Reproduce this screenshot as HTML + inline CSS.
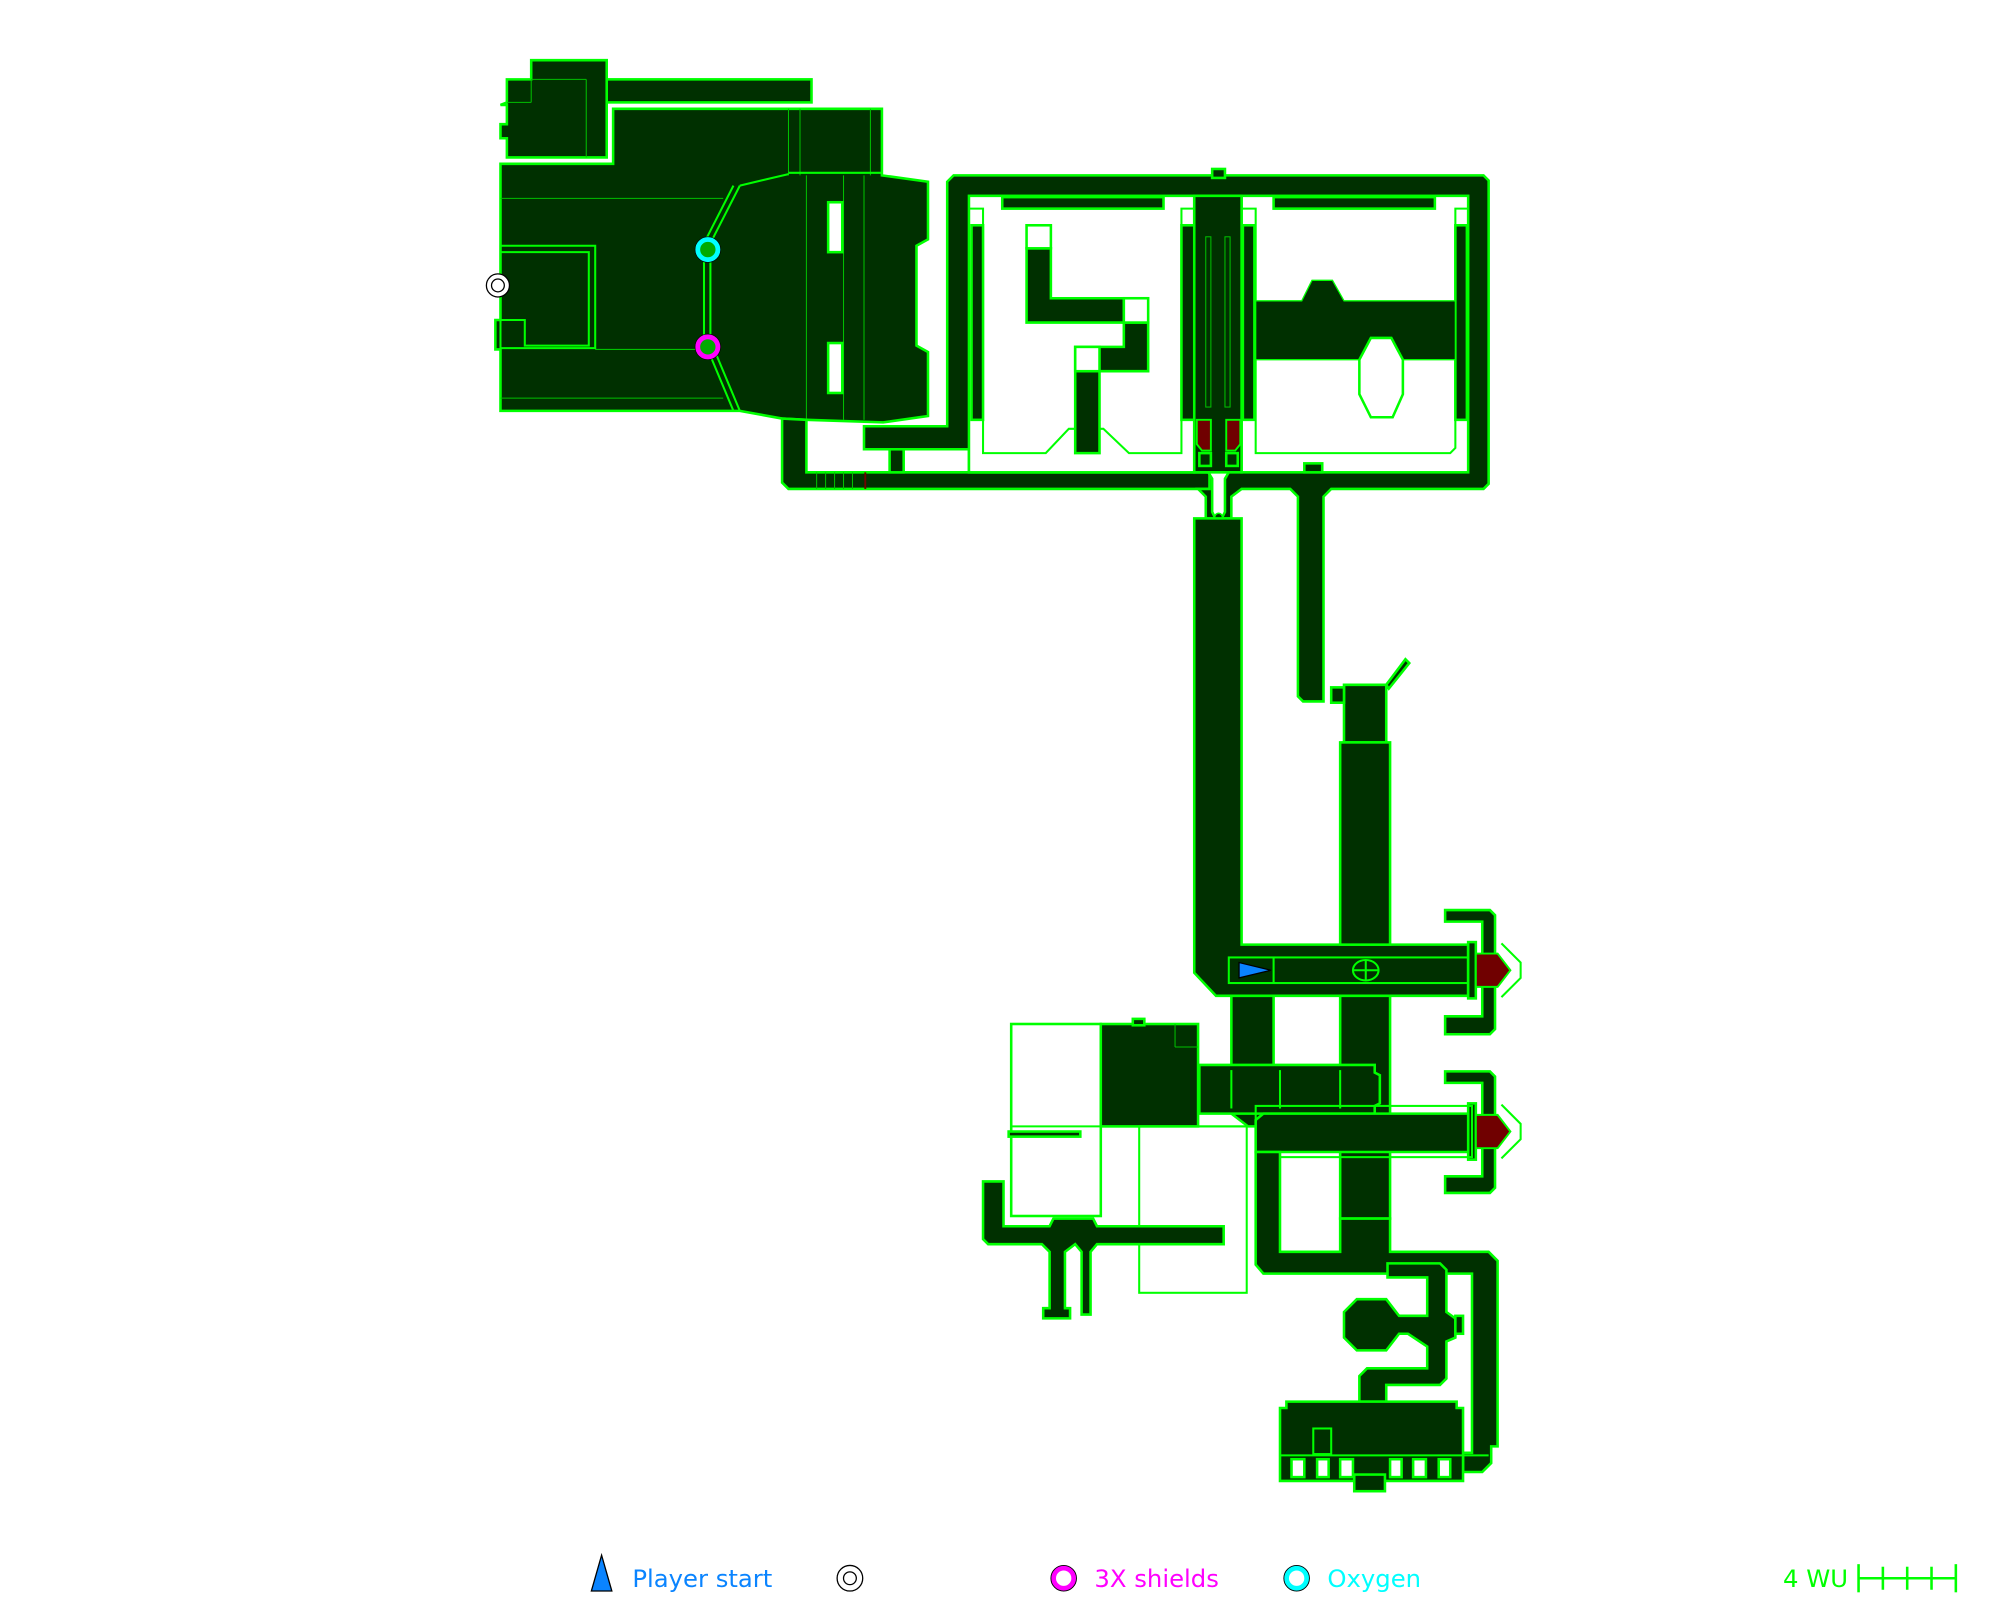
<!DOCTYPE html>
<html><head><meta charset="utf-8"><style>
html,body{margin:0;padding:0;background:#fff;width:2000px;height:1600px;overflow:hidden}
svg{display:block}
.d{fill:#003000;stroke:#00ff00;stroke-width:2;stroke-linejoin:miter}
.w{fill:#fff;stroke:#00ff00;stroke-width:2}
.t{fill:none;stroke:#00c000;stroke-width:0.8}
.o{fill:none;stroke:#00ff00;stroke-width:1.6}
.r{fill:#700000;stroke:#00ff00;stroke-width:1.5}
text{font-family:"DejaVu Sans","Liberation Sans",sans-serif;font-size:19px}
</style></head><body>
<svg width="2000" height="1600" viewBox="0 0 1562.5 1250" xmlns="http://www.w3.org/2000/svg">
<rect class="d" x="474" y="62" width="160" height="18"/>
<polygon class="d" points="396,62 415,62 415,47 474,47 474,123 396,123 396,108 391,108 391,97 396,97 396,82 391,82 396,80"/>
<line class="t" x1="415" y1="62" x2="458" y2="62"/><line class="t" x1="458" y1="62" x2="458" y2="123"/><line class="t" x1="396" y1="80" x2="415" y2="80"/><line class="t" x1="415" y1="62" x2="415" y2="80"/>
<polygon class="d" points="391,128 479,128 479,85 689,85 689,137 725,142 725,187 716,192 716,270 725,275 725,325 690,330 630,328 611,327 578,321 391,321 391,273 387,273 387,250 391,250 391,192"/>
<line class="t" x1="391" y1="155" x2="565" y2="155"/><line class="t" x1="391" y1="311" x2="565" y2="311"/>
<line class="t" x1="465" y1="273" x2="550" y2="273"/>
<line class="t" x1="616" y1="85" x2="616" y2="137"/><line class="t" x1="625" y1="85" x2="625" y2="137"/><line class="t" x1="680" y1="85" x2="680" y2="137"/>
<line class="t" x1="630" y1="137" x2="630" y2="328"/><line class="t" x1="659" y1="137" x2="659" y2="328"/><line class="t" x1="675" y1="137" x2="675" y2="328"/>
<line class="o" x1="616" y1="135" x2="689" y2="135"/>
<polygon class="o" points="391,192 465,192 465,272 391,272"/>
<polyline class="o" points="391,197 460,197 460,270 410,270 410,250 391,250"/>
<polyline class="o" points="578,145 555,190 555,266 578,321"/>
<polyline class="o" points="573,145 550,190 550,266 573,321"/>
<polyline class="o" points="578,145 616,136"/>
<rect class="w" x="647" y="158" width="11" height="39"/><rect class="w" x="647" y="268" width="11" height="39"/>
<polygon class="d" points="611,327 630,328 630,369 945,369 945,382 616,382 611,377"/>
<line class="t" x1="638" y1="369" x2="638" y2="382"/><line class="t" x1="645" y1="369" x2="645" y2="382"/><line class="t" x1="652" y1="369" x2="652" y2="382"/><line class="t" x1="659" y1="369" x2="659" y2="382"/><line class="t" x1="666" y1="369" x2="666" y2="382"/>
<line x1="676" y1="369" x2="676" y2="382" stroke="#700000" stroke-width="1.5"/>
<polygon class="d" points="745,137 1159,137 1163,141 1163,378 1159,382 1040,382 1034,388 1034,548 1018,548 1014,544 1014,388 1008,382 970,382 962,388 962,405 942,405 942,388 936,382 945,382 945,369 757,369 757,351 675,351 675,333 740,333 740,142"/>
<rect class="d" x="947" y="132" width="10" height="7"/>
<rect class="w" x="757" y="153" width="176" height="216"/>
<rect class="w" x="970" y="153" width="177" height="216"/>
<polygon class="d" points="933,153 970,153 970,369 933,369"/>
<rect class="d" x="783" y="154" width="126" height="9"/><rect class="d" x="995" y="154" width="126" height="9"/>
<rect class="d" x="759" y="176" width="9" height="152"/><rect class="d" x="923" y="176" width="10" height="152"/>
<rect class="d" x="971" y="176" width="9" height="152"/><rect class="d" x="1137" y="176" width="9" height="152"/>
<polyline class="o" points="757,163 768,163 768,354 817,354 835,335 862,335 882,354 923,354 923,163 933,163"/>
<polyline class="o" points="970,163 981,163 981,354 1133,354 1137,350 1137,163 1147,163"/>
<polygon class="d" points="802,194 821,194 821,233 878,233 878,252 897,252 897,290 859,290 859,354 840,354 840,271 878,271 878,252 802,252"/>
<rect class="w" x="802" y="176" width="19" height="18"/><rect class="w" x="878" y="233" width="19" height="19"/><rect class="w" x="840" y="271" width="19" height="19"/>
<polygon class="d" points="981,235 1017,235 1025,219 1041,219 1050,235 1137,235 1137,281 1096,281 1087,264 1071,264 1062,281 981,281" style="stroke-width:1"/>
<polygon class="w" points="1071,264 1087,264 1096,281 1096,308 1088,326 1071,326 1062,308 1062,281"/>
<rect class="t" x="942" y="185" width="4" height="133"/><rect class="t" x="957" y="185" width="4" height="133"/>
<polygon class="r" points="935,328 946,328 946,352 939,352 935,347"/><polygon class="r" points="958,328 969,328 969,347 965,352 958,352"/>
<rect class="d" x="937" y="354" width="9" height="10"/><rect class="d" x="958" y="354" width="9" height="10"/>
<polygon points="946,371 958,371 958,373 953,378 953,403 951,403 951,378 946,373" fill="#fff" stroke="#00ff00" stroke-width="1.5"/>
<polygon class="w" points="944,369 960,369 957,374 957,400 955,404 949,404 947,400 947,374"/>
<circle cx="952" cy="404" r="3" class="d" style="stroke-width:1.2"/>
<rect class="d" x="695" y="351" width="11" height="18"/>
<rect class="d" x="1019" y="362" width="14" height="7"/>
<polygon class="d" points="933,405 970,405 970,738 1147,738 1147,778 950,778 933,760"/>
<polygon class="d" points="1050,535 1083,535 1083,580 1050,580"/>
<polygon class="d" points="1083,535 1098,515 1101,518 1085,538"/>
<rect class="d" x="1040" y="537" width="10" height="12"/>
<rect class="d" x="1047" y="580" width="39" height="158"/>
<rect class="o" x="960" y="748" width="190" height="20"/>
<line class="o" x1="995" y1="748" x2="995" y2="768"/>
<polygon points="968,752 993,758 968,764" fill="#0a84ff" stroke="#000" stroke-width="1"/>
<ellipse cx="1067" cy="758" rx="10" ry="8" class="o"/><line class="o" x1="1057" y1="758" x2="1077" y2="758"/><line class="o" x1="1067" y1="750" x2="1067" y2="766"/>
<polygon class="d" points="1129,711 1164,711 1168,715 1168,804 1164,808 1129,808 1129,794 1158,794 1158,720 1129,720"/>
<polygon class="d" points="1129,837 1164,837 1168,841 1168,928 1164,932 1129,932 1129,919 1158,919 1158,846 1129,846"/>
<rect class="d" x="1147" y="736" width="6" height="44"/><rect class="d" x="1147" y="862" width="6" height="44"/>
<polygon class="r" points="1153,745 1170,745 1180,758 1170,771 1153,771"/>
<polyline class="o" points="1173,737 1188,752 1188,764 1173,779"/>
<polygon class="r" points="1153,871 1170,871 1180,884 1170,897 1153,897"/>
<polyline class="o" points="1173,863 1188,878 1188,890 1173,905"/>
<polygon class="d" points="962,778 995,778 995,880 975,880 962,870"/>
<rect class="d" x="1047" y="778" width="39" height="174"/>
<polygon class="d" points="937,832 1074,832 1074,838 1078,840 1078,862 1074,864 1074,870 937,870"/>
<line class="o" x1="962" y1="836" x2="962" y2="866"/><line class="o" x1="1000" y1="836" x2="1000" y2="866"/><line class="o" x1="1047" y1="836" x2="1047" y2="866"/>
<polygon class="d" points="981,875 987,870 1147,870 1147,900 1000,900 981,900"/>
<rect class="o" x="981" y="864" width="169" height="40"/>
<rect class="w" x="790" y="800" width="70" height="150"/>
<rect class="d" x="860" y="800" width="76" height="80"/>
<rect class="d" x="885" y="796" width="9" height="5"/>
<line class="t" x1="918" y1="800" x2="918" y2="818"/><line class="t" x1="918" y1="818" x2="936" y2="818"/>
<rect class="d" x="788" y="884" width="56" height="4"/>
<rect class="o" x="890" y="880" width="84" height="130" style="fill:none"/>
<line class="o" x1="790" y1="880" x2="974" y2="880"/>
<polygon class="d" points="768,923 784,923 784,958 820,958 823,952 854,952 857,958 956,958 956,972 857,972 852,978 852,1027 845,1027 845,978 840,972 832,978 832,1022 836,1022 836,1030 815,1030 815,1022 820,1022 820,978 814,972 772,972 768,968"/>
<polygon class="d" points="981,900 1000,900 1000,978 1047,978 1047,952 1086,952 1086,978 1163,978 1170,985 1170,1130 1165,1130 1165,1143 1158,1150 1143,1150 1143,1135 1150,1135 1150,995 1000,995 987,995 981,988"/>
<polygon class="d" points="1084,987 1125,987 1130,992 1130,1025 1137,1030 1137,1045 1130,1048 1130,1077 1125,1082 1083,1082 1083,1095 1062,1095 1062,1075 1068,1069 1115,1069 1115,1052 1100,1042 1093,1042 1083,1055 1060,1055 1050,1045 1050,1025 1060,1015 1083,1015 1093,1028 1115,1028 1115,998 1084,998"/>
<rect class="d" x="1137" y="1028" width="6" height="14"/>
<polygon class="d" points="1005,1095 1138,1095 1138,1100 1143,1100 1143,1157 1000,1157 1000,1100 1005,1100"/>
<rect class="d" x="1058" y="1152" width="24" height="13"/>
<rect class="o" x="1026" y="1116" width="14" height="20"/>
<line class="o" x1="1000" y1="1137" x2="1163" y2="1137"/>
<rect class="w" x="1009" y="1140" width="10" height="14"/><rect class="w" x="1029" y="1140" width="9" height="14"/><rect class="w" x="1047" y="1140" width="10" height="14"/><rect class="w" x="1086" y="1140" width="9" height="14"/><rect class="w" x="1104" y="1140" width="10" height="14"/><rect class="w" x="1124" y="1140" width="9" height="14"/>
<circle cx="389" cy="223" r="9" fill="#fff" stroke="#000" stroke-width="1"/><circle cx="389" cy="223" r="5" fill="none" stroke="#000" stroke-width="1"/>
<circle cx="553" cy="195" r="8" fill="#00aa00" stroke="#00ffff" stroke-width="4"/><circle cx="553" cy="195" r="10" fill="none" stroke="#000" stroke-width="0.5"/>
<circle cx="553" cy="271" r="8" fill="#00aa00" stroke="#ff00ff" stroke-width="4"/><circle cx="553" cy="271" r="10" fill="none" stroke="#000" stroke-width="0.5"/>
<polygon points="470,1215 462,1243 478,1243" fill="#0a84ff" stroke="#000" stroke-width="1"/>
<text x="494" y="1240" fill="#0a84ff">Player start</text>
<circle cx="664" cy="1233" r="10" fill="#fff" stroke="#000" stroke-width="1"/><circle cx="664" cy="1233" r="5" fill="none" stroke="#000" stroke-width="1"/>
<circle cx="831" cy="1233" r="8" fill="#fff" stroke="#ff00ff" stroke-width="4"/><circle cx="831" cy="1233" r="10" fill="none" stroke="#000" stroke-width="0.7"/>
<text x="855" y="1240" fill="#ff00ff">3X shields</text>
<circle cx="1013" cy="1233" r="8" fill="#fff" stroke="#00ffff" stroke-width="4"/><circle cx="1013" cy="1233" r="10" fill="none" stroke="#000" stroke-width="0.7"/>
<text x="1037" y="1240" fill="#00ffff">Oxygen</text>
<text x="1393" y="1240" fill="#00ff00">4 WU</text>
<g stroke="#00ff00" stroke-width="2"><line x1="1452" y1="1233" x2="1528" y2="1233"/><line x1="1452" y1="1222" x2="1452" y2="1244"/><line x1="1471" y1="1224" x2="1471" y2="1242"/><line x1="1490" y1="1224" x2="1490" y2="1242"/><line x1="1509" y1="1224" x2="1509" y2="1242"/><line x1="1528" y1="1222" x2="1528" y2="1244"/></g>
</svg>
</body></html>
